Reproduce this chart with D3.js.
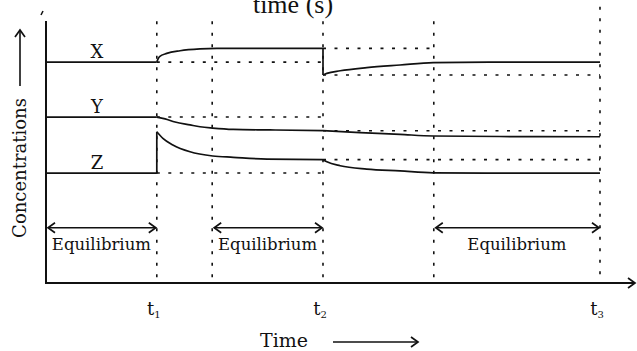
<!DOCTYPE html>
<html>
<head>
<meta charset="utf-8">
<script src="https://cdn.jsdelivr.net/npm/d3@7/dist/d3.min.js"></script>
<style>
  body { margin: 0; background: #fff; }
  svg text { font-family: "DejaVu Serif", serif; fill: #111; }
</style>
</head>
<body>
<div id="chart"></div>
<script>
// times of the disturbances (t1, t2, t3) and where each equilibrium starts/ends
var tMarks = [2, 5, 10];
var tLabels = ['1', '2', '3'];
var guideTimes = [2, 3, 5, 7, 10];
var eqRanges = [[0, 2], [3, 5], [7, 10]];

// concentration curves, split into pieces at the jumps
var seriesX = [
  [[0, 84.0], [2, 84.0]],
  [[2, 84.1], [2.05, 86.1], [2.18, 87.3], [2.42, 88.3], [2.78, 89.0], [3.08, 89.2], [4, 89.2], [5, 89.2]],
  [[5, 89.2], [5, 79.1]],
  [[5, 79.1], [5.07, 79.7], [5.31, 80.7], [5.79, 81.9], [6.39, 82.9], [6.99, 83.8], [8, 84.0], [10, 84.0]]
];
var seriesY = [
  [[0, 63.1], [2, 63.1]],
  [[2, 63.1], [2.15, 62.4], [2.33, 61.2], [2.6, 60.1], [2.78, 59.4], [3.01, 58.9], [3.38, 58.4], [4.04, 58.2], [5, 57.9]],
  [[5, 57.9], [5.67, 57.2], [6.39, 56.5], [6.99, 55.9], [8.19, 55.7], [10, 55.6]]
];
var seriesZ = [
  [[0, 41.8], [2, 41.8]],
  [[2, 41.8], [2, 57.5]],
  [[2, 57.5], [2.11, 55.0], [2.29, 52.5], [2.6, 49.9], [3.01, 48.3], [3.38, 47.8], [3.99, 47.1], [5, 46.9]],
  [[5, 46.9], [5.07, 46.1], [5.31, 44.6], [5.79, 43.3], [6.39, 42.6], [6.99, 41.9], [8, 41.8], [10, 41.8]]
];
// dotted reference levels: [from, to, concentration]
var refX = [[2, 5, 84.0], [5, 7, 89.2], [5, 10, 79.1]];
var refY = [[2, 5, 63.1], [5, 10, 57.9]];
var refZ = [[2, 5, 41.8], [5, 10, 46.9]];
var names = ['X', 'Y', 'Z'];
var startLevels = [84.0, 63.1, 41.8];

var width = 637, height = 351;
var svg = d3.select('#chart').append('svg')
  .attr('width', width)
  .attr('height', height);

var x = d3.scaleLinear().domain([0, 10.65]).range([46, 636]);
var y = d3.scaleLinear().domain([0, 100]).range([283, 20]);

var defs = svg.append('defs');
defs.append('marker')
  .attr('id', 'head')
  .attr('viewBox', '-8 -6 10 12')
  .attr('markerWidth', 10).attr('markerHeight', 12)
  .attr('markerUnits', 'userSpaceOnUse')
  .attr('orient', 'auto-start-reverse')
  .append('path')
  .attr('d', 'M-7,-5L0,0L-7,5')
  .attr('fill', 'none')
  .attr('stroke', '#111')
  .attr('stroke-width', 1.7);

var dash = '3,8.5';

// vertical guides
svg.selectAll('.guide')
  .data(guideTimes)
  .enter().append('line')
  .attr('class', 'guide')
  .attr('x1', function (d) { return x(d); })
  .attr('x2', function (d) { return x(d); })
  .attr('y1', function (d) { return d === 10 ? y(105) : y(99.5); })
  .attr('y2', y(2))
  .attr('stroke', '#111')
  .attr('stroke-width', 1.6)
  .attr('stroke-dasharray', dash);

// horizontal reference levels
var refs = refX.concat(refY, refZ);
svg.selectAll('.ref')
  .data(refs)
  .enter().append('line')
  .attr('class', 'ref')
  .attr('x1', function (d) { return x(d[0]); })
  .attr('x2', function (d) { return x(d[1]); })
  .attr('y1', function (d) { return y(d[2]); })
  .attr('y2', function (d) { return y(d[2]); })
  .attr('stroke', '#111')
  .attr('stroke-width', 1.6)
  .attr('stroke-dasharray', dash);

// curves
var line = d3.line()
  .x(function (d) { return x(d[0]); })
  .y(function (d) { return y(d[1]); })
  .curve(d3.curveMonotoneX);

[seriesX, seriesY, seriesZ].forEach(function (s) {
  svg.append('g').selectAll('path')
    .data(s)
    .enter().append('path')
    .attr('d', line)
    .attr('fill', 'none')
    .attr('stroke', '#111')
    .attr('stroke-width', 1.7);
});

// series names
svg.selectAll('.name')
  .data(names)
  .enter().append('text')
  .attr('class', 'name')
  .attr('x', x(0.92))
  .attr('y', function (d, i) { return y(startLevels[i]) - 4.5; })
  .attr('text-anchor', 'middle')
  .style('font-size', '18px')
  .text(function (d) { return d; });

// axes
svg.append('line')
  .attr('x1', x(0)).attr('x2', x(0))
  .attr('y1', y(0) + 1).attr('y2', y(99.6))
  .attr('stroke', '#111').attr('stroke-width', 2);
svg.append('path')
  .attr('d', 'M41,15L43,11')
  .attr('stroke', '#111').attr('stroke-width', 1.5);
svg.append('line')
  .attr('x1', x(0) - 1).attr('x2', x(10.65) - 1)
  .attr('y1', y(0)).attr('y2', y(0))
  .attr('stroke', '#111').attr('stroke-width', 2)
  .attr('marker-end', 'url(#head)');

// equilibrium arrows
var eqY = y(21);
svg.selectAll('.eq')
  .data(eqRanges)
  .enter().append('line')
  .attr('class', 'eq')
  .attr('x1', function (d) { return x(d[0]) + 2; })
  .attr('x2', function (d) { return x(d[1]) - 1; })
  .attr('y1', eqY).attr('y2', eqY)
  .attr('stroke', '#111').attr('stroke-width', 1.6)
  .attr('marker-start', 'url(#head)')
  .attr('marker-end', 'url(#head)');
svg.selectAll('.eqlab')
  .data(eqRanges)
  .enter().append('text')
  .attr('class', 'eqlab')
  .attr('x', function (d) { return x((d[0] + d[1]) / 2); })
  .attr('y', eqY + 22)
  .attr('text-anchor', 'middle')
  .style('font-size', '16.5px')
  .text('Equilibrium');

// t ticks
var tl = svg.selectAll('.tlab')
  .data(tMarks)
  .enter().append('text')
  .attr('class', 'tlab')
  .attr('x', function (d) { return x(d) - 3; })
  .attr('y', 315)
  .attr('text-anchor', 'middle')
  .style('font-size', '18px');
tl.append('tspan').text('t');
tl.append('tspan')
  .attr('dy', 3)
  .style('font-size', '10px')
  .text(function (d, i) { return tLabels[i]; });

// axis titles
svg.append('text')
  .attr('x', 284).attr('y', 347)
  .attr('text-anchor', 'middle')
  .style('font-size', '19px')
  .text('Time');
svg.append('line')
  .attr('x1', 333).attr('x2', 418)
  .attr('y1', 342).attr('y2', 342)
  .attr('stroke', '#111').attr('stroke-width', 1.6)
  .attr('marker-end', 'url(#head)');

svg.append('text')
  .attr('transform', 'translate(26,168) rotate(-90)')
  .attr('text-anchor', 'middle')
  .style('font-size', '18px')
  .text('Concentrations');
svg.append('line')
  .attr('x1', 20).attr('x2', 20)
  .attr('y1', 86).attr('y2', 30)
  .attr('stroke', '#111').attr('stroke-width', 1.6)
  .attr('marker-end', 'url(#head)');

// clipped caption at the very top
svg.append('text')
  .attr('x', 293).attr('y', 13)
  .attr('text-anchor', 'middle')
  .style('font-family', '"Liberation Serif", serif')
  .style('font-size', '26px')
  .text('time (s)');
</script>
</body>
</html>
